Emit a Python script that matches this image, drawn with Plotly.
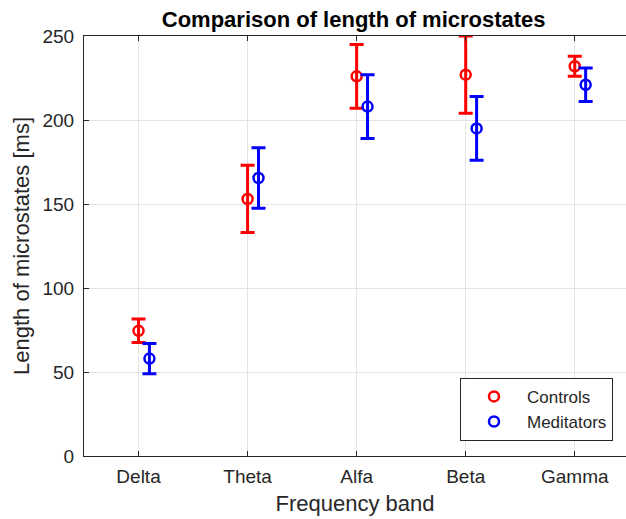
import plotly.graph_objects as go

# Frequency bands and microstate durations (mean ± error, ms)
bands = ["Delta", "Theta", "Alfa", "Beta", "Gamma"]
controls_mean = [74.5, 153.0, 226.0, 227.0, 232.0]
controls_err = [7.0, 20.0, 19.0, 23.0, 6.0]
meditators_mean = [58.0, 165.5, 208.0, 195.0, 221.0]
meditators_err = [9.0, 18.0, 19.0, 19.0, 10.0]
y_ticks = [0, 50, 100, 150, 200, 250]

pos = list(range(1, len(bands) + 1))
offset = 0.1

fig = go.Figure()


def add_series(name, xs, means, errs, color):
    fig.add_trace(go.Scatter(
        x=xs, y=means, name=name, mode="markers",
        marker=dict(symbol="circle-open", size=10, color=color,
                    line=dict(width=2.5, color=color)),
        error_y=dict(type="data", array=errs, visible=True,
                     thickness=3, width=7, color=color),
    ))


add_series("Controls", pos, controls_mean, controls_err, "#ff0000")
add_series("Meditators", [p + offset for p in pos], meditators_mean,
           meditators_err, "#0000ff")

font_family = "Liberation Sans, Arial, sans-serif"

fig.update_layout(
    width=626, height=519,
    margin=dict(l=84, r=0, t=36, b=63),
    paper_bgcolor="white", plot_bgcolor="white",
    font=dict(family=font_family, size=19, color="#262626"),
    title=dict(text="<b>Comparison of length of microstates</b>",
               x=0.565, xanchor="center", y=0.962, yanchor="middle",
               font=dict(size=22, color="black")),
    showlegend=True,
    legend=dict(x=0.976, xanchor="right", y=0.036, yanchor="bottom",
                bgcolor="white", bordercolor="#262626", borderwidth=1,
                font=dict(size=17, color="#262626"),
                itemwidth=56, tracegroupgap=0),
    xaxis=dict(
        range=[0.5, 5.47], tickmode="array", tickvals=pos, ticktext=bands,
        showgrid=True, gridcolor="#e3e3e3", gridwidth=1,
        showline=True, linecolor="#262626", linewidth=1, mirror="ticks",
        ticks="inside", ticklen=5, tickcolor="#262626",
        ticklabelstandoff=3,
        zeroline=False,
        title=dict(text="Frequency band", font=dict(size=22), standoff=9),
    ),
    yaxis=dict(
        range=[0, 250], tickmode="array", tickvals=y_ticks,
        showgrid=True, gridcolor="#e3e3e3", gridwidth=1,
        showline=True, linecolor="#262626", linewidth=1, mirror=False,
        ticks="inside", ticklen=5, tickcolor="#262626",
        ticklabelstandoff=5,
        zeroline=False,
        title=dict(text="Length of microstates [ms]", font=dict(size=22),
                   standoff=6),
    ),
)

fig.write_html("out.html")
